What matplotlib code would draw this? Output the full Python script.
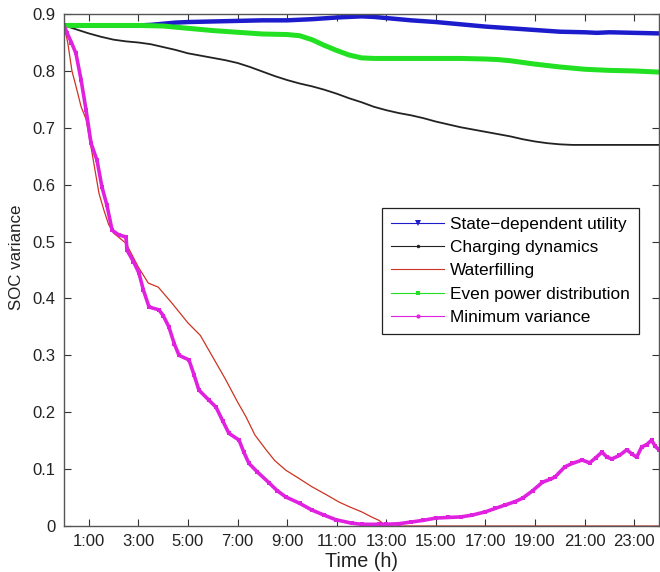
import matplotlib
matplotlib.use("Agg")
import matplotlib.pyplot as plt
from matplotlib.lines import Line2D
from matplotlib.ticker import FormatStrFormatter

plt.rcParams['font.family'] = ['Liberation Sans', 'DejaVu Sans']

# ---- data ----
t_blue = [0, 1, 2, 3, 3.5, 4, 4.5, 5, 6, 7, 8, 9, 10, 11, 12, 12.5, 13, 14, 15, 16, 17, 18, 19, 20, 21, 21.5, 22, 23, 24]
v_blue = [0.880, 0.880, 0.880, 0.880, 0.881, 0.883, 0.885, 0.886, 0.887, 0.888, 0.889, 0.889, 0.891, 0.894, 0.896, 0.895,
          0.893, 0.889, 0.886, 0.882, 0.878, 0.875, 0.872, 0.869, 0.868, 0.867, 0.868, 0.867, 0.866]

t_black = [0, 0.5, 1, 1.5, 2, 2.5, 3, 3.5, 4, 4.5, 5, 5.5, 6, 6.5, 7, 7.5, 8, 8.5, 9, 9.5, 10, 10.5, 11, 11.5, 12,
           12.5, 13, 13.5, 14, 14.5, 15, 15.5, 16, 16.5, 17, 17.5, 18, 18.5, 19, 19.5, 20, 20.5, 21, 22, 23, 24]
v_black = [0.880, 0.873, 0.866, 0.860, 0.855, 0.852, 0.850, 0.847, 0.842, 0.837, 0.831, 0.827, 0.823, 0.819, 0.814,
           0.807, 0.799, 0.791, 0.784, 0.778, 0.773, 0.767, 0.760, 0.752, 0.745, 0.737, 0.731, 0.726, 0.722, 0.717,
           0.711, 0.706, 0.701, 0.697, 0.693, 0.689, 0.685, 0.680, 0.676, 0.673, 0.671, 0.670, 0.670, 0.670, 0.670, 0.670]

t_red = [0, 0.15, 0.32, 0.5, 0.69, 0.89, 1.13, 1.41, 1.61, 1.8, 2.0, 2.5, 3.0, 3.4, 3.8, 4.35, 5.0, 5.5, 6.0, 6.5,
         7.0, 7.34, 7.7, 8.15, 8.5, 8.95, 9.5, 10.0, 10.5, 11.1, 11.5, 12.0, 12.4, 12.7, 13.0, 14, 16, 18, 20, 22, 24]
v_red = [0.880, 0.850, 0.800, 0.770, 0.737, 0.715, 0.656, 0.585, 0.555, 0.530, 0.515, 0.497, 0.455, 0.427, 0.420,
         0.392, 0.357, 0.335, 0.297, 0.259, 0.218, 0.192, 0.160, 0.134, 0.115, 0.098, 0.083, 0.069, 0.057, 0.042,
         0.034, 0.025, 0.016, 0.010, 0.0, 0.0, 0.0, 0.0, 0.0, 0.0, 0.0]

t_green = [0, 1, 2, 3, 4, 4.5, 5, 5.5, 6, 7, 8, 9, 9.5, 10, 10.5, 11, 11.5, 12, 12.5, 14, 16, 17, 17.5, 18, 19, 20,
           21, 22, 23, 24]
v_green = [0.880, 0.880, 0.880, 0.880, 0.879, 0.877, 0.875, 0.873, 0.871, 0.868, 0.865, 0.864, 0.862, 0.855, 0.845,
           0.836, 0.828, 0.823, 0.822, 0.822, 0.822, 0.821, 0.820, 0.818, 0.812, 0.807, 0.803, 0.801, 0.800, 0.798]

t_mag = [0, 0.12, 0.3, 0.48, 0.69, 0.89, 1.09, 1.33, 1.53, 1.73, 1.94, 2.2, 2.5, 2.54, 2.8, 3.02, 3.2, 3.43, 3.83,
         4.0, 4.23, 4.45, 4.64, 5.04, 5.25, 5.44, 5.85, 6.13, 6.4, 6.65, 7.06, 7.25, 7.46, 7.8, 8.27, 8.6, 8.95, 9.5,
         10.0, 10.5, 10.97, 11.6, 12.0, 12.7, 13.0, 13.5, 14.0, 14.5, 15.0, 15.5, 16.0, 16.45, 17.0, 17.4, 17.8,
         18.2, 18.5, 18.9, 19.3, 19.6, 19.8, 20.2, 20.5, 20.9, 21.2, 21.45, 21.7, 21.9, 22.1, 22.4, 22.7, 22.9,
         23.1, 23.3, 23.5, 23.7, 23.85, 24]
v_mag = [0.880, 0.867, 0.850, 0.831, 0.784, 0.731, 0.673, 0.643, 0.596, 0.564, 0.520, 0.512, 0.508, 0.485, 0.465,
         0.445, 0.415, 0.385, 0.380, 0.370, 0.350, 0.320, 0.300, 0.292, 0.265, 0.239, 0.221, 0.209, 0.185, 0.163,
         0.151, 0.130, 0.110, 0.095, 0.076, 0.062, 0.051, 0.040, 0.028, 0.019, 0.011, 0.005, 0.003, 0.003, 0.003,
         0.004, 0.007, 0.010, 0.014, 0.015, 0.016, 0.019, 0.025, 0.031, 0.037, 0.043, 0.049, 0.062, 0.077, 0.082,
         0.086, 0.104, 0.110, 0.116, 0.111, 0.120, 0.130, 0.121, 0.118, 0.124, 0.134, 0.127, 0.121, 0.139, 0.143,
         0.151, 0.140, 0.134]

labels = ["State\u2212dependent utility", "Charging dynamics", "Waterfilling",
          "Even power distribution", "Minimum variance"]
tick_hours = [1, 3, 5, 7, 9, 11, 13, 15, 17, 19, 21, 23]
tick_labels = ["1:00", "3:00", "5:00", "7:00", "9:00", "11:00", "13:00", "15:00",
               "17:00", "19:00", "21:00", "23:00"]

c_blue = "#1c1ccc"
c_black = "#222222"
c_red = "#cc3322"
c_green = "#22e022"
c_mag = "#e022e0"

fig = plt.figure(figsize=(6.6, 5.72), dpi=100)
ax = fig.add_axes([0.097, 0.0804, 0.9015, 0.895])

ax.plot(t_blue, v_blue, color=c_blue, lw=3.2, solid_capstyle='butt')
ax.plot(t_black, v_black, color=c_black, lw=1.3)
ax.plot(t_red, v_red, color=c_red, lw=0.9)
ax.plot(t_green, v_green, color=c_green, lw=3.6, solid_capstyle='butt')
ax.plot(t_mag, v_mag, color=c_mag, lw=2.6, marker='s', ms=2.5, mew=0)

ax.set_xlim(0, 24)
ax.set_ylim(0, 0.9)
ax.set_xticks(tick_hours)
ax.set_xticklabels(tick_labels)
ax.set_yticks([0, 0.1, 0.2, 0.3, 0.4, 0.5, 0.6, 0.7, 0.8, 0.9])
ax.yaxis.set_major_formatter(FormatStrFormatter('%g'))
ax.tick_params(direction='in', top=True, right=True, length=5, width=0.8,
               labelsize=12, colors='#333333', labelcolor='#222222', pad=6)
for s in ax.spines.values():
    s.set_color('#555555')
    s.set_linewidth(1.0)

ax.set_xlabel("Time (h)", fontsize=14.2, color='#222222', labelpad=2)
ax.set_ylabel("SOC variance", fontsize=12.2, color='#222222')
ax.yaxis.set_label_coords(-0.067, 0.525)

handles = [
    Line2D([], [], color=c_blue, lw=0.8, marker='v', ms=4, mew=0),
    Line2D([], [], color=c_black, lw=0.8, marker='.', ms=3),
    Line2D([], [], color=c_red, lw=0.8),
    Line2D([], [], color=c_green, lw=0.8, marker='s', ms=3, mew=0),
    Line2D([], [], color=c_mag, lw=0.8, marker='.', ms=4),
]
leg = ax.legend(handles, labels, loc='upper right', bbox_to_anchor=(0.966, 0.621),
                fontsize=12.4, frameon=True, fancybox=False, framealpha=1,
                edgecolor='#222222', handlelength=3.1, handletextpad=0.35,
                labelspacing=0.48, borderpad=0.5, borderaxespad=0)
leg.get_frame().set_linewidth(0.9)

fig.savefig("out.png", dpi=100)
